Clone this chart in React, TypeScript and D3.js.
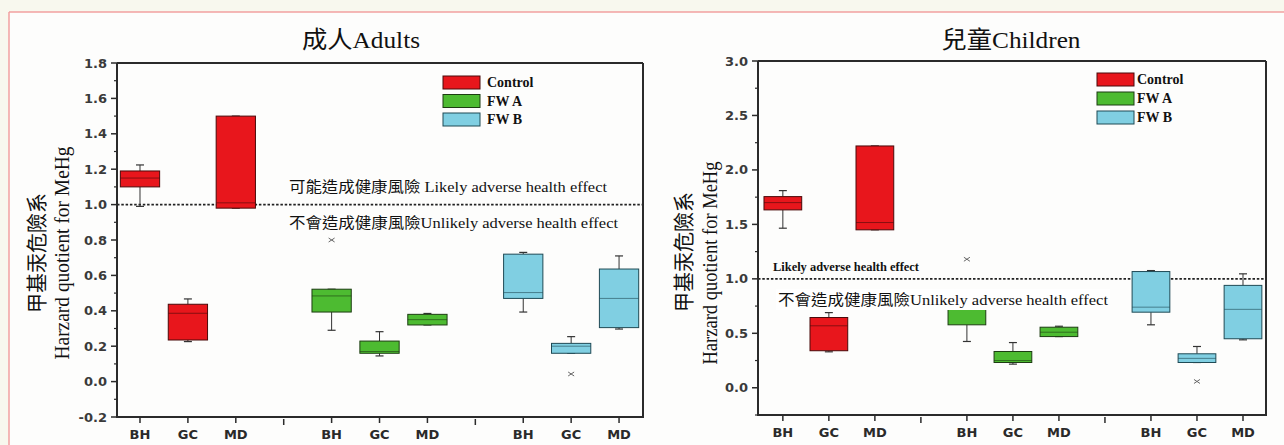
import React from "react";
import * as d3 from "d3";

// ---------- data ----------
const groups = ["Control", "FW A", "FW B"];
const categories = ["BH", "GC", "MD"];
const groupColors = ["#e8161c", "#4dbb31", "#80cfe2"];
const groupStroke = ["#4a0a0a", "#1d3d12", "#1f4a55"];

// Adults: [group][category]
const adultsLow = [[0.99, 0.226, 0.98], [0.29, 0.145, 0.32], [0.393, 0.16, 0.297]];
const adultsQ1 = [[1.10, 0.235, 0.98], [0.393, 0.16, 0.32], [0.47, 0.16, 0.305]];
const adultsMedian = [[1.15, 0.386, 1.01], [0.484, 0.17, 0.35], [0.503, 0.20, 0.47]];
const adultsQ3 = [[1.19, 0.437, 1.50], [0.522, 0.229, 0.38], [0.72, 0.216, 0.636]];
const adultsHigh = [[1.224, 0.467, 1.50], [0.522, 0.282, 0.385], [0.73, 0.254, 0.71]];
const adultsOutliers = [{ g: 1, c: 0, v: 0.80 }, { g: 2, c: 1, v: 0.043 }];
const adultsTicks = [-0.2, 0.0, 0.2, 0.4, 0.6, 0.8, 1.0, 1.2, 1.4, 1.6, 1.8];
const adultsMinor = [-0.1, 0.1, 0.3, 0.5, 0.7, 0.9, 1.1, 1.3, 1.5, 1.7];

// Children
const childLow = [[1.465, 0.33, 1.45], [0.425, 0.217, 0.47], [0.578, 0.232, 0.44]];
const childQ1 = [[1.633, 0.34, 1.45], [0.578, 0.232, 0.47], [0.694, 0.232, 0.45]];
const childMedian = [[1.70, 0.569, 1.517], [0.72, 0.25, 0.51], [0.74, 0.27, 0.72]];
const childQ3 = [[1.755, 0.645, 2.22], [0.78, 0.333, 0.556], [1.067, 0.312, 0.94]];
const childHigh = [[1.81, 0.69, 2.22], [0.78, 0.415, 0.565], [1.076, 0.379, 1.046]];
const childOutliers = [{ g: 1, c: 0, v: 1.18 }, { g: 2, c: 1, v: 0.058 }];
const childTicks = [0.0, 0.5, 1.0, 1.5, 2.0, 2.5, 3.0];
const childMinor = [-0.25, 0.25, 0.75, 1.25, 1.75, 2.25, 2.75];

const threshold = 1.0;

const SERIF = "'Liberation Serif', 'Times New Roman', 'Noto Sans CJK TC', serif";
const SANS = "'DejaVu Sans', 'Liberation Sans', sans-serif";
const AX = "#2b2b2b";

type PanelProps = {
  title: string;
  titleX: number;
  titleLen: number;
  x0: number; x1: number; xDomain: [number, number];
  yTop: number; yBottom: number; yDomain: [number, number];
  ticks: number[]; minor: number[]; fmt: (v: number) => string;
  low: number[][]; q1: number[][]; med: number[][]; q3: number[][]; high: number[][];
  outliers: { g: number; c: number; v: number }[];
  labelX1: number; labelX2: number; labelCY1: number; labelCY2: number; labelLen2: number;
  legendX: number; legendY: number; legendTextX: number; legendPitch: number;
  likely: { text: string; x: number; y: number; len: number; size: number; bold: boolean };
  unlikely: { text: string; x: number; y: number; len: number; size: number; bg: boolean };
};

function Panel(p: PanelProps) {
  const x = d3.scaleLinear().domain(p.xDomain).range([p.x0, p.x1]);
  const y = d3.scaleLinear().domain(p.yDomain).range([p.yBottom, p.yTop]);
  const step = x(1) - x(0);
  const bw = step * 0.82;
  const cap = 8;
  const positions: { g: number; c: number; pos: number }[] = [];
  groups.forEach((_, g) => categories.forEach((__, c) => positions.push({ g, c, pos: g * 4 + c })));
  const seps = [3, 7];

  return (
    <g>
      {/* title */}
      <text x={p.titleX} y={48} fontFamily={SERIF} fontSize={24} fill="#111" textAnchor="middle"
        textLength={p.titleLen} lengthAdjust="spacingAndGlyphs">{p.title}</text>

      {/* y labels */}
      <text transform={`translate(${p.labelX1},${p.labelCY1}) rotate(-90)`} textAnchor="middle"
        fontFamily={SERIF} fontSize={21} fill="#111" textLength={120} lengthAdjust="spacingAndGlyphs">甲基汞危險系</text>
      <text transform={`translate(${p.labelX2},${p.labelCY2}) rotate(-90)`} textAnchor="middle"
        fontFamily={SERIF} fontSize={22} fill="#111" textLength={p.labelLen2} lengthAdjust="spacingAndGlyphs">Harzard quotient for MeHg</text>

      {/* threshold line */}
      <line x1={p.x0} x2={p.x1} y1={y(threshold)} y2={y(threshold)} stroke="#222" strokeWidth={1.6} strokeDasharray="2.5,1.8" />

      {/* boxes */}
      {positions.map(({ g, c, pos }) => {
        const cx = x(pos);
        const lo = p.low[g][c], a = p.q1[g][c], m = p.med[g][c], b = p.q3[g][c], hi = p.high[g][c];
        return (
          <g key={`${g}-${c}`}>
            <line x1={cx} x2={cx} y1={y(hi)} y2={y(b)} stroke="#333" strokeWidth={1} />
            <line x1={cx} x2={cx} y1={y(a)} y2={y(lo)} stroke="#333" strokeWidth={1} />
            <line x1={cx - cap / 2} x2={cx + cap / 2} y1={y(hi)} y2={y(hi)} stroke="#333" strokeWidth={1.2} />
            <line x1={cx - cap / 2} x2={cx + cap / 2} y1={y(lo)} y2={y(lo)} stroke="#333" strokeWidth={1.2} />
            <rect x={cx - bw / 2} y={y(b)} width={bw} height={Math.max(1, y(a) - y(b))}
              fill={groupColors[g]} stroke={groupStroke[g]} strokeWidth={1} />
            <line x1={cx - bw / 2} x2={cx + bw / 2} y1={y(m)} y2={y(m)} stroke={groupStroke[g]} strokeWidth={1} opacity={0.6} />
          </g>
        );
      })}

      {/* outliers */}
      {p.outliers.map((o, i) => {
        const cx = x(o.g * 4 + o.c), cy = y(o.v);
        return (
          <g key={i} stroke="#666" strokeWidth={1}>
            <line x1={cx - 3} x2={cx + 3} y1={cy - 2} y2={cy + 2} />
            <line x1={cx - 3} x2={cx + 3} y1={cy + 2} y2={cy - 2} />
          </g>
        );
      })}

      {/* annotation texts */}
      <text x={p.likely.x} y={p.likely.y} fontFamily={SERIF} fontSize={p.likely.size} fontWeight={p.likely.bold ? "bold" : "normal"}
        fill="#111" textLength={p.likely.len} lengthAdjust="spacingAndGlyphs">{p.likely.text}</text>
      {p.unlikely.bg && (
        <rect x={p.unlikely.x - 2} y={p.unlikely.y - 16} width={p.unlikely.len + 4} height={21} fill="#ffffff" />
      )}
      <text x={p.unlikely.x} y={p.unlikely.y} fontFamily={SERIF} fontSize={p.unlikely.size}
        fill="#111" textLength={p.unlikely.len} lengthAdjust="spacingAndGlyphs">{p.unlikely.text}</text>

      {/* legend */}
      {groups.map((gname, i) => (
        <g key={gname}>
          <rect x={p.legendX} y={p.legendY + i * p.legendPitch} width={37} height={13}
            fill={groupColors[i]} stroke={groupStroke[i]} strokeWidth={1} />
          <text x={p.legendTextX} y={p.legendY + i * p.legendPitch + 11} fontFamily={SERIF} fontWeight="bold"
            fontSize={14} fill="#111">{gname}</text>
        </g>
      ))}

      {/* frame */}
      <line x1={p.x0} x2={p.x1} y1={p.yTop} y2={p.yTop} stroke={AX} strokeWidth={2} />
      <line x1={p.x1} x2={p.x1} y1={p.yTop} y2={p.yBottom} stroke={AX} strokeWidth={2} />
      <line x1={p.x0} x2={p.x0} y1={p.yTop} y2={p.yBottom + 1} stroke={AX} strokeWidth={2} />
      <line x1={p.x0 - 1} x2={p.x1 + 1} y1={p.yBottom} y2={p.yBottom} stroke={AX} strokeWidth={2} />

      {/* y ticks */}
      {p.ticks.map((t) => (
        <g key={`t${t}`}>
          <line x1={p.x0 - 6} x2={p.x0} y1={y(t)} y2={y(t)} stroke={AX} strokeWidth={1.5} />
          <text x={p.x0 - 10} y={y(t) + 4.5} textAnchor="end" fontFamily={SANS} fontSize={13}
            fontWeight="bold" fill="#3a3a3a">{p.fmt(t)}</text>
        </g>
      ))}
      {p.minor.map((t) => (
        <line key={`m${t}`} x1={p.x0 - 3} x2={p.x0 + 1} y1={y(t)} y2={y(t)} stroke={AX} strokeWidth={1.2} />
      ))}

      {/* x ticks */}
      {positions.map(({ g, c, pos }) => (
        <g key={`x${g}-${c}`}>
          <line x1={x(pos)} x2={x(pos)} y1={p.yBottom} y2={p.yBottom + 6} stroke={AX} strokeWidth={1.5} />
          <text x={x(pos)} y={p.yBottom + 22} textAnchor="middle" fontFamily={SANS} fontSize={13}
            fontWeight="bold" fill="#2a2a2a">{categories[c]}</text>
        </g>
      ))}
      {seps.map((s) => (
        <line key={`s${s}`} x1={x(s)} x2={x(s)} y1={p.yBottom + 2} y2={p.yBottom + 8} stroke={AX} strokeWidth={1.5} />
      ))}
    </g>
  );
}

export default function App() {
  const f1 = d3.format(".1f");
  return (
    <div style={{ position: "absolute", left: 0, top: 0 }}>
      <svg width={1284} height={445} viewBox="0 0 1284 445" style={{ display: "block" }}>
        <rect x={0} y={0} width={1284} height={445} fill="#f8f8ee" />
        <rect x={9} y={12} width={1275} height={433} fill="#fdfdfc" />
        <line x1={9} x2={1284} y1={12} y2={12} stroke="#f2a1a1" strokeWidth={1.5} />
        <line x1={9} x2={9} y1={12} y2={445} stroke="#f2a1a1" strokeWidth={1.5} />

        <Panel
          title="成人Adults" titleX={361} titleLen={118}
          x0={117} x1={643} xDomain={[-0.48, 10.5]}
          yTop={63} yBottom={417} yDomain={[-0.2, 1.8]}
          ticks={adultsTicks} minor={adultsMinor} fmt={(v) => f1(v).replace("−", "-")}
          low={adultsLow} q1={adultsQ1} med={adultsMedian} q3={adultsQ3} high={adultsHigh}
          outliers={adultsOutliers}
          labelX1={44} labelX2={69} labelCY1={253} labelCY2={253} labelLen2={213}
          legendX={443} legendY={76} legendTextX={487} legendPitch={18.5}
          likely={{ text: "可能造成健康風險 Likely adverse health effect", x: 289, y: 192, len: 318, size: 15, bold: false }}
          unlikely={{ text: "不會造成健康風險Unlikely adverse health effect", x: 289, y: 228, len: 329, size: 15, bg: false }}
        />
        <Panel
          title="兒童Children" titleX={1011} titleLen={139}
          x0={758} x1={1266} xDomain={[-0.54, 10.5]}
          yTop={61} yBottom={415} yDomain={[-0.25, 3.0]}
          ticks={childTicks} minor={childMinor} fmt={(v) => f1(v)}
          low={childLow} q1={childQ1} med={childMedian} q3={childQ3} high={childHigh}
          outliers={childOutliers}
          labelX1={691} labelX2={717} labelCY1={252} labelCY2={263} labelLen2={203}
          legendX={1097} legendY={73} legendTextX={1137} legendPitch={19}
          likely={{ text: "Likely adverse health effect", x: 773, y: 271, len: 146, size: 11.5, bold: true }}
          unlikely={{ text: "不會造成健康風險Unlikely adverse health effect", x: 778, y: 305, len: 330, size: 15, bg: true }}
        />
      </svg>
    </div>
  );
}
